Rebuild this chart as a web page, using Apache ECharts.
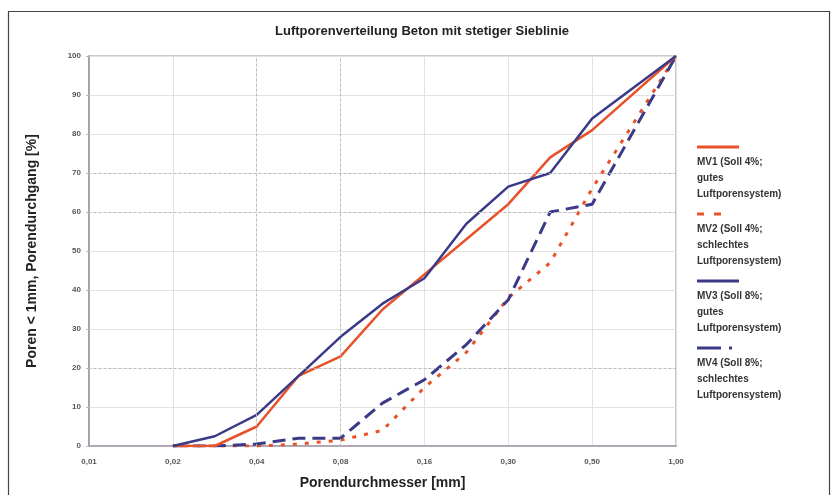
<!DOCTYPE html>
<html lang="de">
<head>
    <meta charset="UTF-8">
    <title>Luftporenverteilung Beton</title>
    <script src="https://cdn.jsdelivr.net/npm/echarts@6/dist/echarts.min.js"></script>
    <style>
        html, body { margin: 0; padding: 0; background: #fff; }
        #main { width: 836px; height: 495px; }
    </style>
</head>
<body>
    <div id="main"></div>
    <script>
        // Siebstufen (gleichabstaendig), Messpunkte liegen auch auf halben Stufen
        var tickLabels = ['0,01', '0,02', '0,04', '0,08', '0,16', '0,30', '0,50', '1,00'];
        var xSteps = [1, 1.5, 2, 2.5, 3, 3.5, 4, 4.5, 5, 5.5, 6, 7];

        var mv1 = [0, 0, 5, 18, 23, 35, 44, 53, 62, 74, 81, 100];
        var mv2 = [0, 0, 0, 0.5, 1.5, 4, 15, 24, 38, 47, 66, 100];
        var mv3 = [0, 2.5, 8, 18, 28, 36.5, 43, 57, 66.5, 70, 84, 100];
        var mv4 = [0, 0, 0.5, 2, 2, 11, 17, 26, 37.5, 60, 62, 100];

        var names = [
            'MV1 (Soll 4%;\ngutes\nLuftporensystem)',
            'MV2 (Soll 4%;\nschlechtes\nLuftporensystem)',
            'MV3 (Soll 8%;\ngutes\nLuftporensystem)',
            'MV4 (Soll 8%;\nschlechtes\nLuftporensystem)'
        ];

        var orange = '#e8522a';
        var navy = '#3a3a86';

        function pairs(vals) {
            return vals.map(function (v, i) { return [xSteps[i], v]; });
        }

        var swatch = {
            s1: '{o|}',
            s2: '{od|}{gap|}{od|}',
            s3: '{n|}',
            s4: '{nd|}{gap2|}{nt|}'
        };
        var swatchKeys = ['s1', 's2', 's3', 's4'];

        var chart = echarts.init(document.getElementById('main'));
        chart.setOption({
            animation: false,
            title: {
                text: 'Luftporenverteilung Beton mit stetiger Sieblinie',
                left: 417,
                textAlign: 'center',
                top: 20,
                textStyle: { fontFamily: 'Liberation Sans', fontSize: 13, fontWeight: 'bold', color: '#222' }
            },
            graphic: [{
                type: 'rect',
                shape: { x: 8.5, y: 11.5, width: 821, height: 490 },
                style: { fill: 'none', stroke: '#444', lineWidth: 1.2 }
            }],
            grid: {
                left: 89, right: 160, top: 56, bottom: 48,
                show: true, borderColor: '#bdb6b6', borderWidth: 1.5
            },
            legend: {
                orient: 'vertical',
                left: 687,
                top: 136,
                itemGap: 9,
                itemWidth: 0,
                itemHeight: 0,
                icon: 'none',
                selectedMode: false,
                data: names,
                formatter: function (name) {
                    var k = swatchKeys[names.indexOf(name)];
                    var lines = name.split('\n').map(function (l) { return '{t|' + l + '}'; });
                    return swatch[k] + '\n' + lines.join('\n');
                },
                textStyle: {
                    rich: {
                        o: { width: 42, height: 3, backgroundColor: orange, lineHeight: 14 },
                        n: { width: 42, height: 3, backgroundColor: navy, lineHeight: 14 },
                        od: { width: 7, height: 3, backgroundColor: orange, lineHeight: 14 },
                        gap: { width: 10, height: 3, lineHeight: 14 },
                        nd: { width: 24, height: 3, backgroundColor: navy, lineHeight: 14 },
                        gap2: { width: 8, height: 3, lineHeight: 14 },
                        nt: { width: 3, height: 3, backgroundColor: navy, lineHeight: 14 },
                        t: { fontFamily: 'Liberation Sans', fontSize: 10, fontWeight: 'bold', color: '#333', lineHeight: 16 }
                    }
                }
            },
            xAxis: {
                type: 'value',
                min: 0, max: 7, interval: 1,
                name: 'Porendurchmesser [mm]',
                nameLocation: 'middle',
                nameGap: 30,
                nameTextStyle: { fontFamily: 'Liberation Sans', fontSize: 14, fontWeight: 'bold', color: '#222' },
                axisLine: { show: true, onZero: false, lineStyle: { color: '#a49aa8', width: 1.5 } },
                axisTick: { show: false },
                axisLabel: {
                    formatter: function (v) { return tickLabels[v]; },
                    fontFamily: 'Liberation Sans', fontSize: 8, fontWeight: 'bold', color: '#555', margin: 12
                },
                splitLine: { show: true, lineStyle: { color: '#e2e2e2', width: 1 } }
            },
            yAxis: {
                type: 'value',
                min: 0, max: 100, interval: 10,
                name: 'Poren < 1mm, Porendurchgang [%]',
                nameLocation: 'middle',
                nameGap: 50,
                nameTextStyle: { fontFamily: 'Liberation Sans', fontSize: 14, fontWeight: 'bold', color: '#222' },
                axisLine: { show: true, lineStyle: { color: '#9c90a4', width: 1.5 } },
                axisTick: { show: true, length: 3, lineStyle: { color: '#bbb' } },
                axisLabel: { fontFamily: 'Liberation Sans', fontSize: 8, fontWeight: 'bold', color: '#555', margin: 8 },
                splitLine: { show: true, lineStyle: { color: '#e2e2e2', width: 1 } }
            },
            series: [
                {
                    name: names[0], type: 'line', data: pairs(mv1), symbol: 'none', z: 3,
                    lineStyle: { color: orange, width: 2.5 }, itemStyle: { color: orange },
                    markLine: {
                        silent: true, symbol: 'none', label: { show: false },
                        lineStyle: { color: '#b8b8b8', type: [2, 3], width: 1 },
                        data: [{ yAxis: 20 }, { yAxis: 60 }, { yAxis: 70 }, { xAxis: 2 }, { xAxis: 3 }]
                    }
                },
                {
                    name: names[1], type: 'line', data: pairs(mv2), symbol: 'none', z: 2,
                    lineStyle: { color: orange, width: 3, type: [4, 8] }, itemStyle: { color: orange }
                },
                {
                    name: names[2], type: 'line', data: pairs(mv3), symbol: 'none', z: 4,
                    lineStyle: { color: navy, width: 2.5 }, itemStyle: { color: navy }
                },
                {
                    name: names[3], type: 'line', data: pairs(mv4), symbol: 'none', z: 2,
                    lineStyle: { color: navy, width: 3, type: [13, 7] }, itemStyle: { color: navy }
                }
            ]
        });
    </script>
</body>
</html>
